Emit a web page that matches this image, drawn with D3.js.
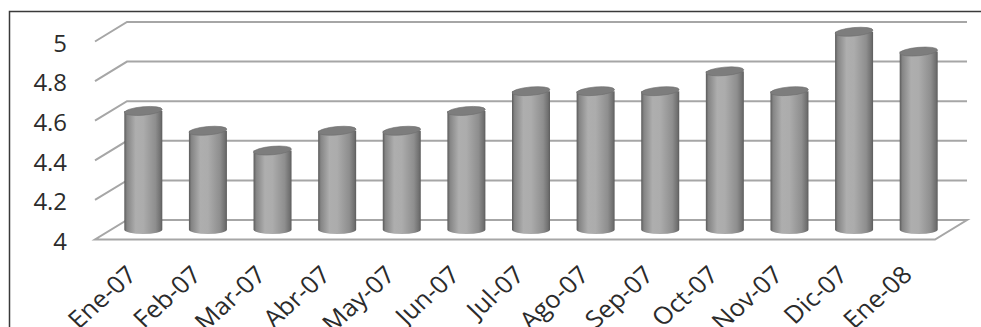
<!DOCTYPE html>
<html>
<head>
<meta charset="utf-8">
<script src="https://cdn.jsdelivr.net/npm/d3@7"></script>
<style>
  html, body { margin: 0; padding: 0; background: #fff; }
  svg text { font-family: "Open Sans", sans-serif; fill: #2b2b2b; }
</style>
</head>
<body>
<svg id="chart" width="981" height="327"></svg>
<script>
/* ── Data ─────────────────────────────── */
const categories = ["Ene-07","Feb-07","Mar-07","Abr-07","May-07","Jun-07","Jul-07",
                    "Ago-07","Sep-07","Oct-07","Nov-07","Dic-07","Ene-08"];
const values     = [4.6, 4.5, 4.4, 4.5, 4.5, 4.6, 4.7, 4.7, 4.7, 4.8, 4.7, 5.0, 4.9];
const yTicks     = [4, 4.2, 4.4, 4.6, 4.8, 5];

/* ── Geometry (pseudo 3D) ─────────────── */
const depthX = 32, depthY = -19.5;          // back wall offset from front
const svg = d3.select("#chart");

const x = d3.scaleBand().domain(categories).range([95, 935]);
const yBack = d3.scaleLinear().domain([4, 5]).range([220, 22]);
const yFront = v => yBack(v) - depthY;

// outer frame
svg.append("rect")
    .attr("x", 9.5).attr("y", 11.5).attr("width", 990).attr("height", 340)
    .attr("fill", "none").attr("stroke", "#3a3a3a").attr("stroke-width", 1.5);

const defs = svg.append("defs");
const grad = defs.append("linearGradient").attr("id", "cyl")
    .attr("x1", "0%").attr("x2", "100%").attr("y1", "0%").attr("y2", "0%");
[[0, "#5a5a5a"], [0.07, "#858585"], [0.3, "#aeaeae"], [0.5, "#acacac"],
 [0.82, "#8e8e8e"], [0.95, "#707070"], [1, "#5c5c5c"]]
    .forEach(([o, c]) => grad.append("stop").attr("offset", o).attr("stop-color", c));

const [x0, x1] = x.range();

// floor
svg.append("polygon")
    .attr("points", [[x0, yFront(4)], [x1, yFront(4)], [x1 + depthX, yBack(4)], [x0 + depthX, yBack(4)]].join(" "))
    .attr("fill", "#fff").attr("stroke", "#a6a6a6").attr("stroke-width", 2);

// back wall + side wall gridlines
const grid = svg.append("g").attr("stroke", "#a6a6a6").attr("stroke-width", 2).attr("fill", "none");
grid.selectAll("path").data(yTicks.filter(t => t > 4)).join("path")
    .attr("d", t => `M${x0},${yFront(t)}L${x0 + depthX},${yBack(t)}L${x1 + depthX},${yBack(t)}`);

// y labels
svg.append("g").selectAll("text").data(yTicks).join("text")
    .attr("transform", t => `translate(67,${yFront(t) + 2}) scale(1.04,1)`)
    .attr("text-anchor", "end").attr("dy", "0.36em")
    .style("font-size", "23px")
    .text(t => d3.format("~g")(t));

// cylinders at mid depth
const barW = 38, ry = 4.2, tilt = -5;
const bars = svg.append("g").selectAll("g").data(values).join("g")
    .attr("transform", (d, i) => `translate(${x(categories[i]) + x.bandwidth() / 2 + depthX / 2},0)`);

bars.append("path")
    .attr("d", d => {
        const top = yBack(d) + depthY / -2, bot = yBack(4) - depthY / 2;
        return `M${-barW / 2},${top}L${-barW / 2},${bot}A${barW / 2},${ry} 0 0 0 ${barW / 2},${bot}L${barW / 2},${top}Z`;
    })
    .attr("fill", "url(#cyl)");

bars.append("ellipse")
    .attr("transform", d => `translate(0,${yBack(d) - depthY / 2}) rotate(${tilt})`)
    .attr("rx", barW / 2).attr("ry", ry)
    .attr("fill", "#7d7d7d").attr("stroke", "#6e6e6e").attr("stroke-width", 0.6);

// x labels
svg.append("g").selectAll("text").data(categories).join("text")
    .attr("transform", c => `translate(${x(c) + x.bandwidth() / 2 - 2},264) scale(1.08,1) rotate(-44)`)
    .attr("text-anchor", "end").attr("dy", "0.72em")
    .style("font-size", "24px")
    .text(c => c);
</script>
</body>
</html>
